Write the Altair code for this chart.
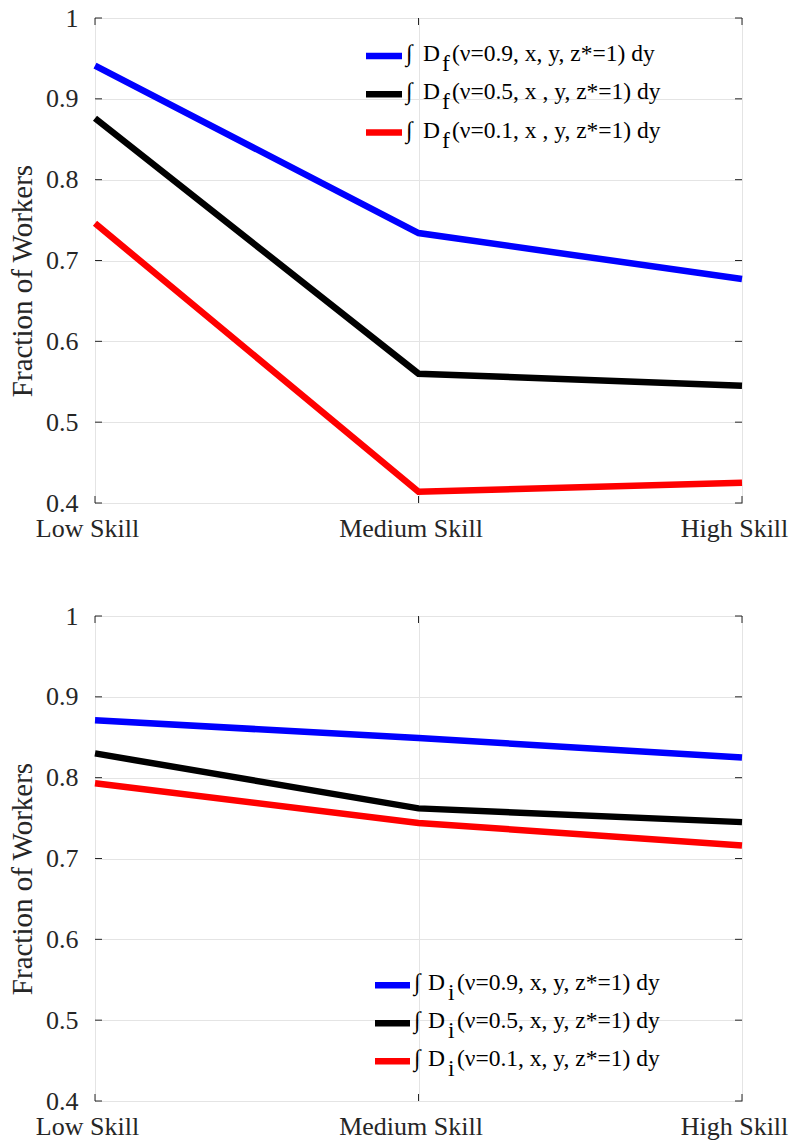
import altair as alt
import pandas as pd

FONT = "Liberation Serif"
AXIS_COLOR = "#262626"
GRID_COLOR = "#e4e4e4"

skills = ["Low Skill", "Medium Skill", "High Skill"]
nu_labels = ["0.9", "0.5", "0.1"]
colors = ["#0000ff", "#000000", "#ff0000"]

# Top panel: formal sector D_f
formal_09 = [0.941, 0.734, 0.677]
formal_05 = [0.876, 0.560, 0.545]
formal_01 = [0.746, 0.414, 0.425]

# Bottom panel: informal sector D_i
informal_09 = [0.871, 0.849, 0.825]
informal_05 = [0.830, 0.762, 0.745]
informal_01 = [0.793, 0.744, 0.716]

y_ticks = [0.4, 0.5, 0.6, 0.7, 0.8, 0.9, 1.0]

legend_top_rest = ["(ν=0.9, x, y, z*=1) dy", "(ν=0.5, x , y, z*=1) dy", "(ν=0.1, x , y, z*=1) dy"]
legend_bottom_rest = ["(ν=0.9, x, y, z*=1) dy", "(ν=0.5, x, y, z*=1) dy", "(ν=0.1, x, y, z*=1) dy"]

W, H = 647, 485


def make_df(series_list):
    rows = []
    for nu, vals in zip(nu_labels, series_list):
        for i, (s, v) in enumerate(zip(skills, vals)):
            rows.append({"skill": s, "value": v, "nu": nu, "idx": i})
    return pd.DataFrame(rows)


def panel(series_list, sub, rests, leg):
    df = make_df(series_list)
    xscale = alt.Scale(type="point", domain=skills, padding=0)
    yscale = alt.Scale(domain=[0.4, 1.0], nice=False, zero=False)
    x_axis = alt.Axis(title=None, labelAngle=0, grid=True, ticks=False, domain=False,
                      labelPadding=12, labelOffset=-8, labelBaseline="top",
                      labelFont=FONT, labelFontSize=26, labelColor=AXIS_COLOR,
                      gridColor=GRID_COLOR, gridWidth=1)
    y_axis = alt.Axis(title="Fraction of Workers", values=y_ticks, format="~g", grid=True,
                      ticks=False, domain=False, labelPadding=17, titlePadding=8,
                      labelFont=FONT, labelFontSize=26, labelColor=AXIS_COLOR,
                      titleFont=FONT, titleFontSize=29, titleColor=AXIS_COLOR,
                      titleFontWeight="normal", titleY=H / 2 + 20,
                      gridColor=GRID_COLOR, gridWidth=1)

    lines = alt.Chart(df).mark_line(strokeWidth=6.5, strokeCap="butt", strokeJoin="miter").encode(
        x=alt.X("skill:O", scale=xscale, sort=skills, axis=x_axis),
        y=alt.Y("value:Q", scale=yscale, axis=y_axis),
        color=alt.Color("nu:N", scale=alt.Scale(domain=nu_labels, range=colors), legend=None),
        detail="nu:N",
        order=alt.Order("idx:Q"),
    )

    tick_df = pd.DataFrame({"v": y_ticks})
    xtick_df = pd.DataFrame({"skill": skills})
    left_ticks = alt.Chart(tick_df).mark_rule(color=AXIS_COLOR, strokeWidth=1).encode(
        y=alt.Y("v:Q", scale=yscale, axis=y_axis), x=alt.value(0), x2=alt.value(7))
    right_ticks = alt.Chart(tick_df).mark_rule(color=AXIS_COLOR, strokeWidth=1).encode(
        y=alt.Y("v:Q", scale=yscale, axis=y_axis), x=alt.value(W - 7), x2=alt.value(W))
    bottom_ticks = alt.Chart(xtick_df).mark_rule(color=AXIS_COLOR, strokeWidth=1).encode(
        x=alt.X("skill:O", scale=xscale, sort=skills, axis=x_axis), y=alt.value(H - 7), y2=alt.value(H))
    top_ticks = alt.Chart(xtick_df).mark_rule(color=AXIS_COLOR, strokeWidth=1).encode(
        x=alt.X("skill:O", scale=xscale, sort=skills, axis=x_axis), y=alt.value(0), y2=alt.value(7))

    one = pd.DataFrame({"k": [0]})
    layers = [lines, left_ticks, right_ticks, bottom_ticks, top_ticks]
    lx0, lx1, ly0, step, x_int, x_D, x_sub, x_rest = leg
    for i, (col, rest) in enumerate(zip(colors, rests)):
        yy = ly0 + i * step
        layers.append(alt.Chart(one).mark_rule(color=col, strokeWidth=6.5, strokeCap="butt").encode(
            x=alt.value(lx0), x2=alt.value(lx1), y=alt.value(yy)))
        for xx, txt, dy in [(x_int, "∫", 5), (x_D, "D", 5), (x_sub, sub, 15), (x_rest, rest, 5)]:
            layers.append(alt.Chart(one).mark_text(
                align="left", baseline="alphabetic", font=FONT, fontSize=23.5, color="#000000").encode(
                x=alt.value(xx), y=alt.value(yy + dy), text=alt.value(txt)))

    return alt.layer(*layers).properties(width=W, height=H)


top = panel([formal_09, formal_05, formal_01], "f", legend_top_rest,
            (271, 307, 38, 38.3, 311, 328, 347, 357))
bottom = panel([informal_09, informal_05, informal_01], "i", legend_bottom_rest,
               (280, 315, 369.3, 38, 319, 333, 353, 362))

chart = alt.vconcat(top, bottom, spacing=113, bounds="flush").properties(
    padding={"left": 8, "top": 4, "right": 0, "bottom": 0},
).configure(
    font=FONT
).configure_view(
    stroke=AXIS_COLOR, strokeWidth=1
).configure_axis(
    labelFont=FONT, labelFontSize=26, labelColor=AXIS_COLOR,
    titleFont=FONT, titleFontSize=29, titleColor=AXIS_COLOR, titleFontWeight="normal",
    gridColor=GRID_COLOR, gridWidth=1,
)

chart.save("out.html", embed_options={"renderer": "svg", "actions": False})
